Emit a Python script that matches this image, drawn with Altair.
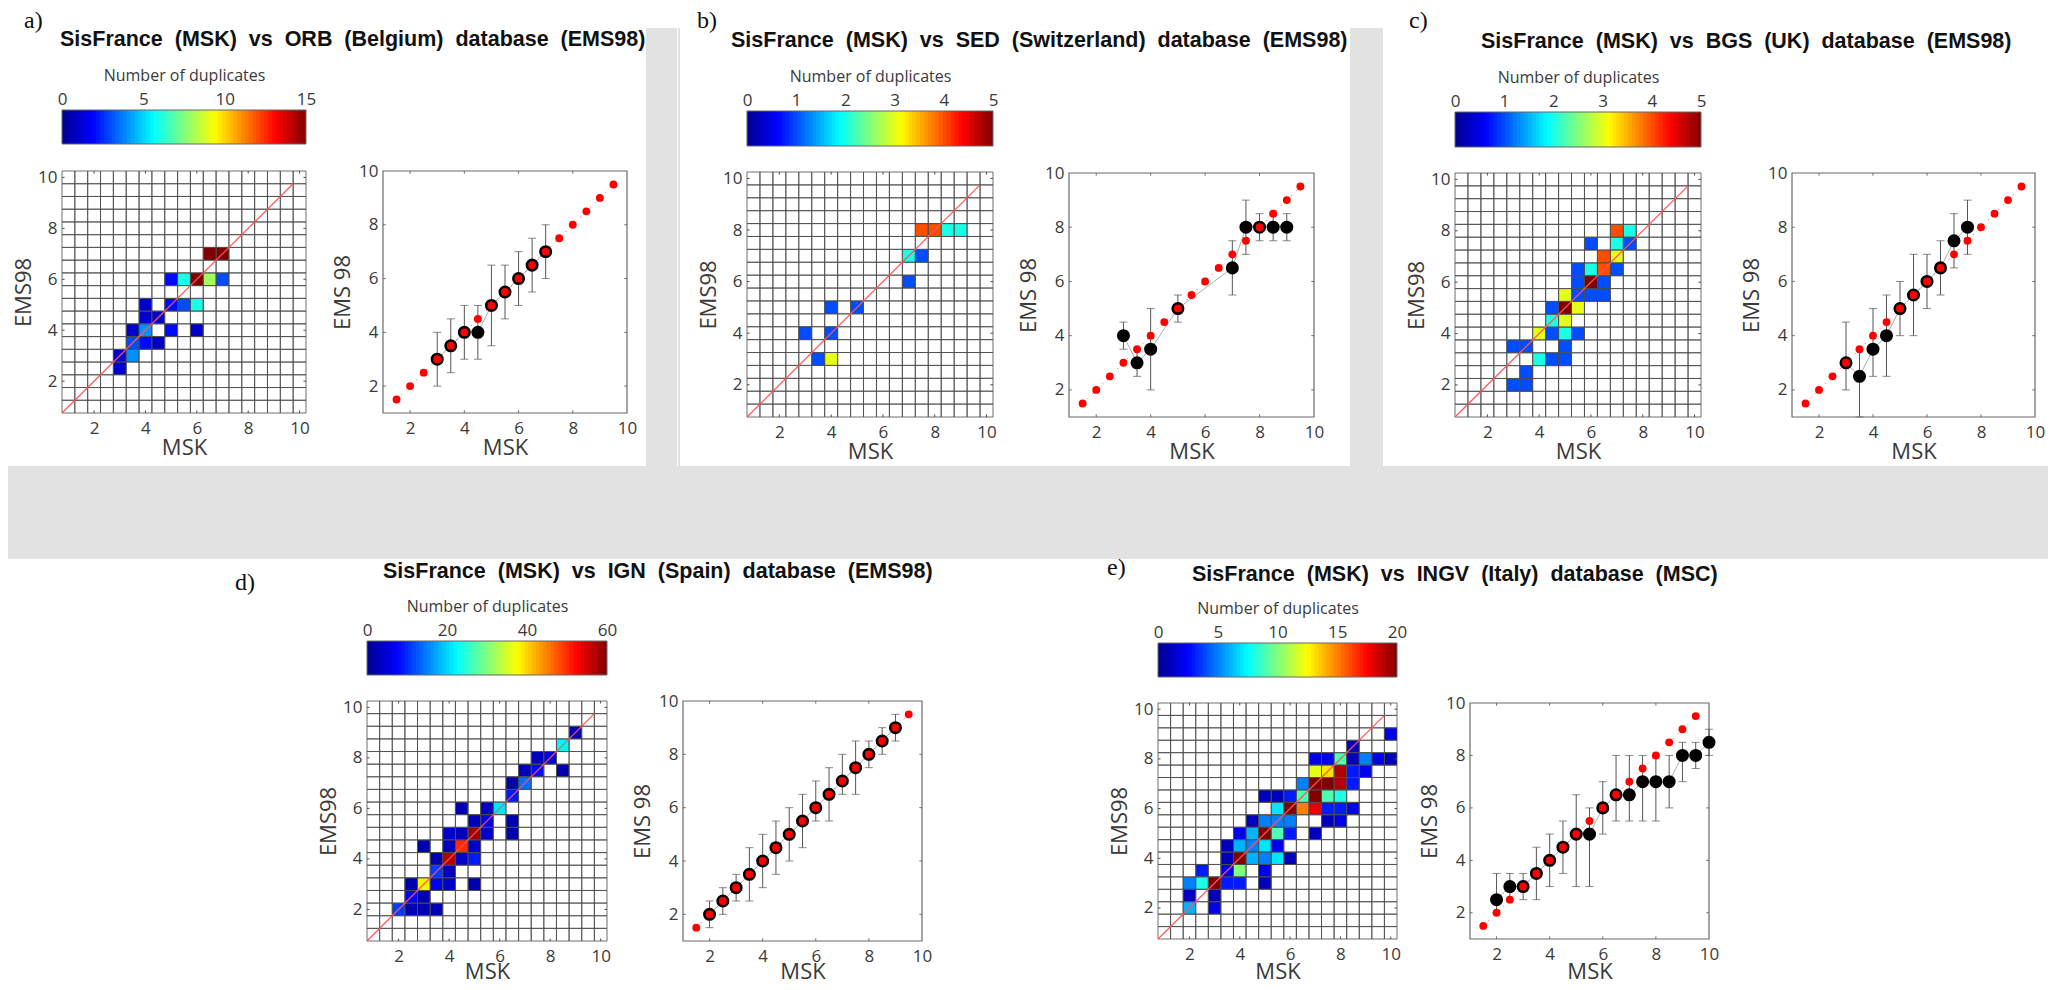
import altair as alt
import pandas as pd

# ---------- values ----------
BIN_CENTRES = [1 + 0.5 * k for k in range(19)]
TICKS = [2, 4, 6, 8, 10]
RED_X = [1.5, 2, 2.5, 3, 3.5, 4, 4.5, 5, 5.5, 6, 6.5, 7, 7.5, 8, 8.5, 9, 9.5]
RED_Y = [1.5, 2, 2.5, 3, 3.5, 4, 4.5, 5, 5.5, 6, 6.5, 7, 7.5, 8, 8.5, 9, 9.5]

A_CX = [6.5, 7, 5, 5.5, 6, 6.5, 7, 4, 5, 5.5, 6, 4, 4.5, 3.5, 4, 5, 6, 3.5, 4, 4.5, 3, 3.5, 3]
A_CY = [7, 7, 6, 6, 6, 6, 6, 5, 5, 5, 5, 4.5, 4.5, 4, 4, 4, 4, 3.5, 3.5, 3.5, 3, 3, 2.5]
A_CV = [15, 15, 2, 6, 15, 8, 3, 1, 2, 3, 6, 1, 1, 1, 4, 2, 1, 3, 2, 1, 1, 4, 1]

B_CX = [7.5, 8, 8.5, 9, 7, 7.5, 7, 4, 5, 3, 4, 3.5, 4]
B_CY = [8, 8, 8, 8, 7, 7, 6, 5, 5, 4, 4, 3, 3]
B_CV = [4, 4, 2, 2, 2, 1, 1, 1, 1, 1, 1, 1, 3]

C_CX = [7, 7.5, 6, 7, 7.5, 6.5, 7, 5.5, 6, 6.5, 7, 5.5, 6, 6.5, 5, 5.5, 6, 6.5, 4.5, 5, 5.5,
        4.5, 5, 4, 4.5, 5, 5.5, 3, 3.5, 5, 4, 4.5, 5, 3.5, 3, 3.5]
C_CY = [8, 8, 7.5, 7.5, 7.5, 7, 7, 6.5, 6.5, 6.5, 6.5, 6, 6, 6, 5.5, 5.5, 5.5, 5.5, 5, 5, 5,
        4.5, 4.5, 4, 4, 4, 4, 3.5, 3.5, 3.5, 3, 3, 3, 2.5, 2, 2]
C_CV = [4, 2, 1, 2, 1, 4, 3, 1, 2, 4, 1, 1, 5, 1, 3, 1, 1, 1, 1, 5, 3,
        2, 3, 3, 1, 2, 1, 1, 1, 1, 2, 1, 1, 1, 1, 1]

D_CX = [9, 8.5, 7.5, 8, 7, 7.5, 8.5, 6.5, 7, 6.5, 4.5, 5.5, 6, 5, 5.5, 6.5, 4, 4.5, 5, 5.5, 6.5,
        3, 4, 4.5, 5, 3.5, 4, 4.5, 5, 3.5, 4, 2.5, 3, 3.5, 4, 5, 2.5, 3, 2, 2.5, 3, 3.5]
D_CY = [9, 8.5, 8, 8, 7.5, 7.5, 7.5, 7, 7, 6.5, 6, 6, 6, 5.5, 5.5, 5.5, 5, 5, 5, 5, 5,
        4.5, 4.5, 4.5, 4.5, 4, 4, 4, 4, 3.5, 3.5, 3, 3, 3, 3, 3, 2.5, 2.5, 2, 2, 2, 2]
D_CV = [2, 22, 3, 5, 3, 8, 2, 2, 14, 9, 2, 3, 21, 3, 6, 2, 4, 3, 58, 4, 2,
        2, 3, 50, 4, 2, 57, 4, 9, 11, 3, 2, 38, 6, 4, 2, 7, 2, 11, 2, 2, 3]

E_CX = [10, 8.5, 7, 7.5, 8, 8.5, 9, 9.5, 10, 7, 7.5, 8, 8.5, 9, 6.5, 7, 7.5, 8, 8.5,
        5, 5.5, 6, 6.5, 7, 7.5, 8, 5.5, 6, 6.5, 7, 7.5, 8, 8.5,
        4.5, 5, 5.5, 6, 7.5, 8, 4, 4.5, 5, 5.5, 6, 7,
        3.5, 4, 4.5, 5, 5.5, 3.5, 4, 4.5, 5, 5.5, 6,
        2.5, 3.5, 4, 5, 2, 2.5, 3, 3.5, 4, 5, 2, 3, 2, 3]
E_CY = [9, 8.5, 8, 8, 8, 8, 8, 8, 8, 7.5, 7.5, 7.5, 7.5, 7.5, 7, 7, 7, 7, 7,
        6.5, 6.5, 6.5, 6.5, 6.5, 6.5, 6.5, 6, 6, 6, 6, 6, 6, 6,
        5.5, 5.5, 5.5, 5.5, 5.5, 5.5, 5, 5, 5, 5, 5, 5,
        4.5, 4.5, 4.5, 4.5, 4.5, 4, 4, 4, 4, 4, 4,
        3.5, 3.5, 3.5, 3.5, 3, 3, 3, 3, 3, 3, 2.5, 2.5, 2, 2]
E_CV = [2, 1, 2, 2, 9, 1, 5, 2, 1, 12, 13, 19, 3, 2, 5, 20, 20, 19, 3,
        1, 1, 3, 9, 20, 9, 8, 7, 20, 15, 18, 3, 3, 2,
        1, 5, 5, 5, 1, 2, 2, 6, 20, 9, 3, 1,
        1, 6, 5, 7, 2, 1, 20, 6, 5, 7, 1,
        3, 2, 10, 2, 5, 8, 20, 3, 3, 1, 1, 1, 6, 2]

A_BX = [3, 3.5, 4, 4.5, 5, 5.5, 6, 6.5, 7]
A_BY = [3, 3.5, 4, 4, 5, 5.5, 6, 6.5, 7]
A_LO = [2, 2.5, 3, 3, 3.5, 4.5, 5, 5.5, 6]
A_HI = [4, 4.5, 5, 5, 6.5, 6.5, 7, 7.5, 8]

B_BX = [3, 3.5, 4, 5, 7, 7.5, 8, 8.5, 9]
B_BY = [4, 3, 3.5, 5, 6.5, 8, 8, 8, 8]
B_LO = [3.5, 2.5, 2, 4.5, 5.5, 7, 7.5, 7.5, 7.5]
B_HI = [4.5, 3.5, 5, 5.5, 7.5, 9, 8.5, 8.5, 8.5]

C_BX = [3, 3.5, 4, 4.5, 5, 5.5, 6, 6.5, 7, 7.5]
C_BY = [3, 2.5, 3.5, 4, 5, 5.5, 6, 6.5, 7.5, 8]
C_LO = [2, 1, 2.5, 2.5, 4, 4, 5, 5.5, 6.5, 7]
C_HI = [4.5, 3.5, 5, 5.5, 6, 7, 7, 7.5, 8.5, 9]

D_BX = [2, 2.5, 3, 3.5, 4, 4.5, 5, 5.5, 6, 6.5, 7, 7.5, 8, 8.5, 9]
D_BY = [2, 2.5, 3, 3.5, 4, 4.5, 5, 5.5, 6, 6.5, 7, 7.5, 8, 8.5, 9]
D_LO = [1.5, 2, 2.5, 2.5, 3, 3.5, 4, 4.5, 5.5, 5.5, 6.5, 6.5, 7.5, 8, 8.5]
D_HI = [2.5, 3, 3.5, 4.5, 5, 5.5, 6, 6.5, 7, 7.5, 8, 8.5, 8.5, 9, 9.5]

E_BX = [2, 2.5, 3, 3.5, 4, 4.5, 5, 5.5, 6, 6.5, 7, 7.5, 8, 8.5, 9, 9.5, 10]
E_BY = [2.5, 3, 3, 3.5, 4, 4.5, 5, 5, 6, 6.5, 6.5, 7, 7, 7, 8, 8, 8.5]
E_LO = [2, 2.5, 2.5, 2.5, 3, 3.5, 3, 3, 5, 5.5, 5.5, 5.5, 5.5, 6, 7, 7.5, 8]
E_HI = [3.5, 3.5, 3.5, 4.5, 5, 5.5, 6.5, 6, 7, 8, 8, 8, 8, 8, 8.5, 8.5, 9]

TITLES = {
    "a": "SisFrance  (MSK)  vs  ORB  (Belgium)  database  (EMS98)",
    "b": "SisFrance  (MSK)  vs  SED  (Switzerland)  database  (EMS98)",
    "c": "SisFrance  (MSK)  vs  BGS  (UK)  database  (EMS98)",
    "d": "SisFrance  (MSK)  vs  IGN  (Spain)  database  (EMS98)",
    "e": "SisFrance  (MSK)  vs  INGV  (Italy)  database  (MSC)",
}
CB_MAX = {"a": 15, "b": 5, "c": 5, "d": 60, "e": 20}
CB_TICKS = {
    "a": [0, 5, 10, 15],
    "b": [0, 1, 2, 3, 4, 5],
    "c": [0, 1, 2, 3, 4, 5],
    "d": [0, 20, 40, 60],
    "e": [0, 5, 10, 15, 20],
}
CELLS = {"a": (A_CX, A_CY, A_CV), "b": (B_CX, B_CY, B_CV), "c": (C_CX, C_CY, C_CV),
         "d": (D_CX, D_CY, D_CV), "e": (E_CX, E_CY, E_CV)}
BLACK = {"a": (A_BX, A_BY, A_LO, A_HI), "b": (B_BX, B_BY, B_LO, B_HI), "c": (C_BX, C_BY, C_LO, C_HI),
         "d": (D_BX, D_BY, D_LO, D_HI), "e": (E_BX, E_BY, E_LO, E_HI)}

# ---------- layout, in page pixels ----------
W, H = 2040, 974
OX, OY = 8, 8
BOX = {
    "a": {"cb": (62, 306, 110, 144), "hm": (62, 306, 171, 413), "sc": (383, 627, 171, 413)},
    "b": {"cb": (747, 993, 111, 146), "hm": (747, 993, 172, 417), "sc": (1069, 1314, 173, 417)},
    "c": {"cb": (1455, 1701, 112, 147), "hm": (1455, 1701, 173, 417), "sc": (1792, 2035, 173, 417)},
    "d": {"cb": (367, 607, 641, 675), "hm": (367, 607, 701, 941), "sc": (683, 922, 701, 941)},
    "e": {"cb": (1158, 1397, 643, 677), "hm": (1158, 1397, 703, 939), "sc": (1470, 1709, 703, 939)},
}
TITLE_POS = {"a": (60, 40), "b": (731, 41), "c": (1481, 42), "d": (383, 572), "e": (1192, 575)}
LETTER_POS = {"a": (24, 21), "b": (697, 21), "c": (1409, 21), "d": (235, 583), "e": (1107, 568)}
BANDS = [(0, 2056, 466, 559), (646, 677, 28, 466), (678, 680, 28, 466), (1350, 1383, 28, 466)]
MSK_PAD = {"a": 1, "b": 1, "c": 1, "d": -3, "e": -1}

SANS = "Open Sans"
INK = "#3a3a3a"
JET_AT = [0, 0.125, 0.375, 0.625, 0.875, 1]
JET = ["#000090", "#0000ff", "#00ffff", "#ffff00", "#ff0000", "#800000"]
TITLE_FS, LETTER_FS, LABEL_FS, AXT_FS = 21.5, 24, 17, 22


def pos(field, box_lo, box_hi, domain, axis=None, flip=False):
    """Positional channel whose scale range is the panel's place on the page."""
    o = OY if flip else OX
    rng = [box_hi - o, box_lo - o] if flip else [box_lo - o, box_hi - o]
    scale = alt.Scale(domain=domain, range=rng, nice=False, zero=False)
    cls = alt.Y if flip else alt.X
    return cls(field, type="quantitative", scale=scale, axis=axis)


def base_axis(orient, offset, title, values, padT, padL=6, titleSize=AXT_FS):
    return alt.Axis(orient=orient, offset=offset, title=title, values=values, tickSize=0,
                    grid=False, domain=False, format="d", labelFlush=False, labelOverlap=False,
                    labelFont=SANS, labelFontSize=LABEL_FS, labelColor=INK, labelPadding=padL,
                    titleFont=SANS, titleFontSize=titleSize, titleFontWeight="normal", titleColor=INK,
                    titlePadding=padT)


def xy(box, dom, xaxis=None, yaxis=None):
    x0, x1, y0, y1 = box
    return {"x": pos("x", x0, x1, dom, xaxis), "y": pos("y", y0, y1, dom, yaxis, flip=True)}


def inner_ticks(dom):
    lo, hi = dom
    t = 0.1
    xs, x2s, ys, y2s = [], [], [], []
    for v in TICKS:
        if v >= hi:
            continue
        xs += [v, v]; x2s += [v, v]; ys += [lo, hi]; y2s += [lo + t, hi - t]
        xs += [lo, hi]; x2s += [lo + t, hi - t]; ys += [v, v]; y2s += [v, v]
    return pd.DataFrame({"x": xs, "x2": x2s, "y": ys, "y2": y2s})


layers = []

for (x0, x1, y0, y1) in BANDS:
    layers.append(
        alt.Chart(pd.DataFrame({"k": [0]})).mark_rect(color="#e2e2e2").encode(
            x=alt.value(max(x0 - OX, 0)), x2=alt.value(min(x1 - OX, W)),
            y=alt.value(y0 - OY), y2=alt.value(y1 - OY))
    )

for key in "abcde":
    box = BOX[key]
    cmax = CB_MAX[key]
    color_scale = alt.Scale(domain=[f * cmax for f in JET_AT], range=JET, interpolate="rgb")

    # title and panel letter
    tx, ty = TITLE_POS[key]
    layers.append(
        alt.Chart(pd.DataFrame({"t": [TITLES[key].replace(" ", "\u00a0")]})).mark_text(
            align="left", baseline="middle", font="Liberation Sans", fontWeight="bold",
            fontSize=TITLE_FS, color="#111111").encode(
            x=alt.value(tx - OX), y=alt.value(ty - OY), text="t:N")
    )
    lx, ly = LETTER_POS[key]
    layers.append(
        alt.Chart(pd.DataFrame({"t": [key + ")"]})).mark_text(
            align="left", baseline="middle", font="Liberation Serif",
            fontSize=LETTER_FS, color="#111111").encode(
            x=alt.value(lx - OX), y=alt.value(ly - OY), text="t:N")
    )

    # colour bar: overlapping steps so no seams show between them
    cx0, cx1, cy0, cy1 = box["cb"]
    n = 64
    cb = pd.DataFrame({
        "x": [i / n * cmax for i in range(n)],
        "x2": [min(i + 1.4, n) / n * cmax for i in range(n)],
        "v": [(i + 0.5) / n * cmax for i in range(n)],
    })
    cb_axis = base_axis("top", -(cy0 - OY), "Number of duplicates", CB_TICKS[key], 7, 2, 16)
    layers.append(
        alt.Chart(cb).mark_rect().encode(
            x=pos("x", cx0, cx1, [0, cmax], cb_axis), x2="x2",
            y=alt.value(cy0 - OY), y2=alt.value(cy1 - OY),
            color=alt.Color("v:Q", scale=color_scale, legend=None))
    )
    layers.append(
        alt.Chart(pd.DataFrame({"x": [0], "x2": [cmax]})).mark_rect(
            fillOpacity=0, stroke="#666666", strokeWidth=1).encode(
            x=pos("x", cx0, cx1, [0, cmax]), x2="x2",
            y=alt.value(cy0 - OY), y2=alt.value(cy1 - OY))
    )

    # heat map
    hdom = [0.75, 10.25]
    hbox = box["hm"]
    hx0, hx1, hy0, hy1 = hbox
    cxs, cys, cvs = CELLS[key]
    cells = pd.DataFrame({"xc": cxs, "yc": cys, "v": cvs})
    cells["x"] = cells.xc - 0.25
    cells["x2"] = cells.xc + 0.25
    cells["y"] = cells.yc - 0.25
    cells["y2"] = cells.yc + 0.25
    layers.append(
        alt.Chart(cells).mark_rect().encode(
            **xy(hbox, hdom), x2="x2", y2="y2",
            color=alt.Color("v:Q", scale=color_scale, legend=None))
    )
    grid = pd.DataFrame(
        [{"x": a - 0.25, "x2": a + 0.25, "y": b - 0.25, "y2": b + 0.25}
         for a in BIN_CENTRES for b in BIN_CENTRES]
    )
    xa = base_axis("bottom", -(H - (hy1 - OY)), "MSK", TICKS, MSK_PAD[key], 7)
    ya = base_axis("left", -(hx0 - OX), "EMS98", TICKS, 2, 5)
    layers.append(
        alt.Chart(grid).mark_rect(fillOpacity=0, stroke="#4a4a4a", strokeWidth=0.8).encode(
            **xy(hbox, hdom, xa, ya), x2="x2", y2="y2")
    )
    layers.append(
        alt.Chart(pd.DataFrame({"x": [0.75], "x2": [9.75], "y": [0.75], "y2": [9.75]})).mark_rule(
            color="#ff5555", strokeWidth=1.2).encode(**xy(hbox, hdom), x2="x2", y2="y2")
    )
    layers.append(
        alt.Chart(inner_ticks(hdom)).mark_rule(color="#4a4a4a", strokeWidth=1).encode(
            **xy(hbox, hdom), x2="x2", y2="y2")
    )

    # scatter
    sdom = [1, 10]
    sbox = box["sc"]
    sx0, sx1, sy0, sy1 = sbox
    bx, by, lo, hi = BLACK[key]
    blk = pd.DataFrame({"x": bx, "y": by, "lo": lo, "hi": hi})
    red = pd.DataFrame({"x": RED_X, "y": RED_Y})
    xa = base_axis("bottom", -(H - (sy1 - OY)), "MSK", TICKS, MSK_PAD[key], 7)
    ya = base_axis("left", -(sx0 - OX), "EMS 98", TICKS, 4, 5)
    layers.append(
        alt.Chart(pd.DataFrame({"x": [1], "x2": [10], "y": [1], "y2": [10]})).mark_rect(
            fillOpacity=0, stroke="#6a6a6a", strokeWidth=1.2).encode(
            **xy(sbox, sdom, xa, ya), x2="x2", y2="y2")
    )
    layers.append(
        alt.Chart(inner_ticks(sdom)).mark_rule(color="#6a6a6a", strokeWidth=1).encode(
            **xy(sbox, sdom), x2="x2", y2="y2")
    )
    layers.append(
        alt.Chart(red).mark_line(color="#ff4444", strokeWidth=1, strokeDash=[1, 6]).encode(**xy(sbox, sdom))
    )
    layers.append(
        alt.Chart(blk).mark_line(color="#888888", strokeWidth=0.7).encode(**xy(sbox, sdom))
    )
    yscale_lo = pos("lo", sy0, sy1, sdom, None, flip=True)
    yscale_hi = pos("hi", sy0, sy1, sdom, None, flip=True)
    layers.append(
        alt.Chart(blk).mark_rule(color="#555555", strokeWidth=1).encode(
            x=pos("x", sx0, sx1, sdom), y=yscale_lo, y2="hi")
    )
    for enc in (yscale_lo, yscale_hi):
        layers.append(
            alt.Chart(blk).mark_tick(orient="horizontal", size=8, thickness=1, color="#555555").encode(
                x=pos("x", sx0, sx1, sdom), y=enc)
        )
    layers.append(
        alt.Chart(blk).mark_circle(color="#000000", size=170, opacity=1).encode(**xy(sbox, sdom))
    )
    layers.append(
        alt.Chart(red).mark_circle(color="#ff0000", size=62, opacity=1).encode(**xy(sbox, sdom))
    )

chart = (
    alt.layer(*layers)
    .resolve_scale(x="independent", y="independent", color="independent")
    .properties(width=W, height=H, padding=0, autosize=alt.AutoSizeParams(type="none"))
    .configure_view(stroke=None)
)

chart.save("out.html", embed_options={"renderer": "svg", "actions": False})
